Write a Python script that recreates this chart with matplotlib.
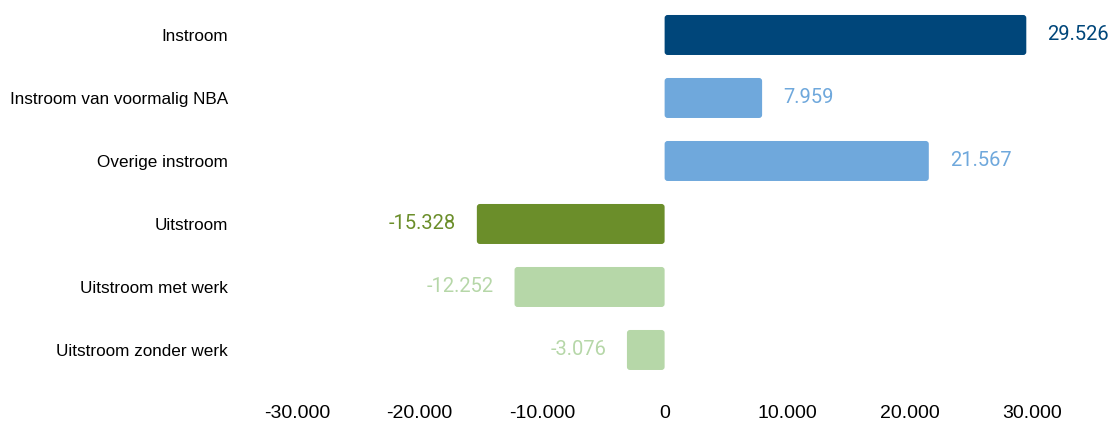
import matplotlib.pyplot as plt
from matplotlib.patches import FancyBboxPatch

categories = ["Instroom", "Instroom van voormalig NBA", "Overige instroom",
              "Uitstroom", "Uitstroom met werk", "Uitstroom zonder werk"]
values = [29526, 7959, 21567, -15328, -12252, -3076]
value_labels = ["29.526", "7.959", "21.567", "-15.328", "-12.252", "-3.076"]
colors = ["#00467a", "#6fa8dc", "#6fa8dc", "#6b8e2a", "#b6d7a8", "#b6d7a8"]
ticks = [-30000, -20000, -10000, 0, 10000, 20000, 30000]
tick_labels = ["-30.000", "-20.000", "-10.000", "0", "10.000", "20.000", "30.000"]


def main():
    fig = plt.figure(figsize=(11.17, 4.25), dpi=100)
    ax = fig.add_axes([0.266, 0.1024, 0.658, 0.8894])

    ypos = list(range(len(categories)))
    bars = ax.barh(ypos, values, height=0.635, color=colors)
    ax.set_xlim(-30000, 30000)
    ax.set_ylim(len(categories) - 0.5, -0.5)

    # swap plain rectangles for slightly rounded ones
    for bar, c in zip(bars, colors):
        x, y = bar.get_x(), bar.get_y()
        w, h = bar.get_width(), bar.get_height()
        if w < 0:
            x, w = x + w, -w
        bar.set_visible(False)
        ax.add_patch(FancyBboxPatch((x, y), w, h,
                                    boxstyle="round,pad=0,rounding_size=250",
                                    mutation_aspect=0.00019, facecolor=c,
                                    edgecolor="none"))

    for y, v, lab, c in zip(ypos, values, value_labels, colors):
        off = 1700 if v > 0 else -1700
        ax.text(v + off, y, lab, color=c, fontsize=14.5, family="Roboto",
                ha="left" if v > 0 else "right", va="center")

    ax.set_yticks(ypos)
    ax.set_yticklabels(categories, fontsize=12.3, family="Liberation Sans")
    ax.set_xticks(ticks)
    ax.set_xticklabels(tick_labels, fontsize=14, family="Liberation Sans")
    ax.tick_params(axis="y", length=0, pad=50)
    ax.tick_params(axis="x", length=0, pad=17)
    for s in ax.spines.values():
        s.set_visible(False)

    fig.savefig("out.png", dpi=100)


if __name__ == "__main__":
    main()
